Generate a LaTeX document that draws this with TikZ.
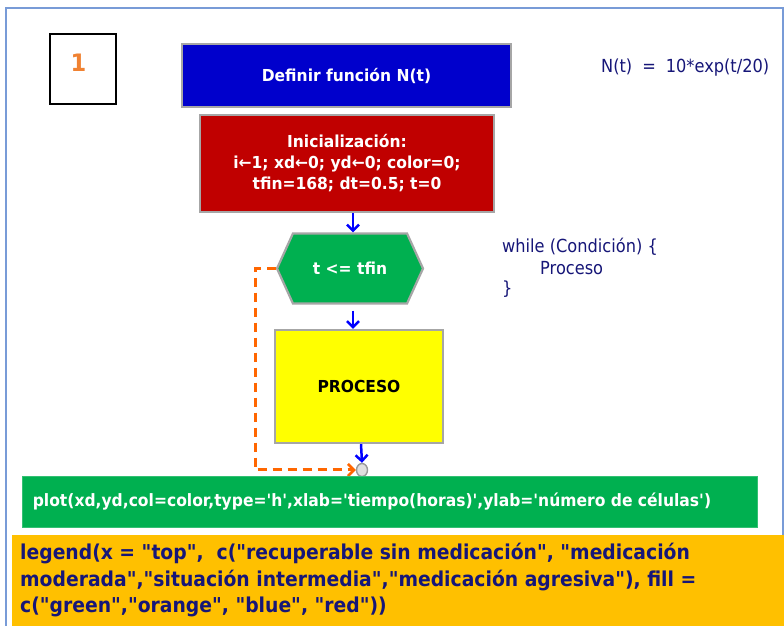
\documentclass[tikz,border=0pt]{standalone}
\usepackage{fontspec}
\usetikzlibrary{shapes.symbols,shapes.geometric,arrows.meta,calc}
\newfontfamily\boxfont{DejaVu Sans}[FakeStretch=0.94]
\newfontfamily\condfont{DejaVu Sans}[FakeStretch=0.915]
\newfontfamily\notefont{DejaVu Sans}[FakeStretch=0.9]
\newfontfamily\legfont{DejaVu Sans}[FakeStretch=0.915]
\definecolor{defblue}{RGB}{0,0,204}
\definecolor{initred}{RGB}{192,0,0}
\definecolor{okgreen}{RGB}{0,176,80}
\definecolor{procyellow}{RGB}{255,255,0}
\definecolor{legorange}{RGB}{255,192,0}
\definecolor{navy}{RGB}{22,22,120}
\definecolor{edgegray}{RGB}{166,166,166}
\definecolor{loopor}{RGB}{255,102,0}
\definecolor{numor}{RGB}{240,130,50}
\definecolor{framebl}{RGB}{120,155,215}
\tikzset{
  flowbox/.style={draw=edgegray, line width=2.4pt, minimum width=#1, inner sep=0pt},
  boxtext/.style={font=\boxfont\bfseries\fontsize{16.5}{21}\selectfont},
  arr/.style={draw={rgb,255:red,0;green,0;blue,255}, line width=2.5pt,
    -{Straight Barb[length=6pt,width=12pt,line width=2.5pt]}},
  looparr/.style={draw=loopor, line width=3pt, dash pattern=on 9pt off 6pt,
    -{Straight Barb[length=6pt,width=12pt,line width=2.6pt]}},
  note/.style={text=navy, font=\notefont\fontsize{18}{21}\selectfont, anchor=west, inner sep=0pt},
}
\begin{document}
\begin{tikzpicture}[x=1pt,y=1pt]
\useasboundingbox (0,0) rectangle (784,626);
\fill[white] (0,0) rectangle (784,626);
% outer frame
\draw[framebl, line width=2pt] (6,618) rectangle (783,-10);

% step number
\node[draw=black, line width=2pt, minimum width=66pt, minimum height=70pt] (one) at (83,557) {};
\node[text=numor, font=\boxfont\bfseries\fontsize{24}{24}\selectfont, inner sep=0pt]
  (onelbl) at ([shift={(-4.5,6)}]one.center) {1};

% flow boxes
\node[flowbox=329pt, minimum height=63pt, fill=defblue, text=white, boxtext]
  (def) at (346.5,550.5) {Definir función N(t)};
\node[flowbox=294pt, minimum height=97pt, fill=initred, text=white, align=center, boxtext]
  (init) at (347,462.5)
  {Inicialización:\\ i←1; xd←0; yd←0; color=0;\\ tfin=168; dt=0.5; t=0};
\node[signal, signal to=east and west, signal pointer angle=131, draw=edgegray, line width=2.2pt,
  fill=okgreen, text=white, minimum width=146pt, minimum height=70pt, inner sep=0pt, boxtext]
  (cond) at (350,357.5) {t <= tfin};
\node[flowbox=168pt, minimum height=113pt, fill=procyellow, text=black, boxtext]
  (proc) at (359,239.5) {PROCESO};
\node[draw=gray!80, fill=gray!25, line width=1.4pt, ellipse, minimum width=11pt, minimum height=13pt,
  inner sep=0pt] (join) at (362,156) {};

% connectors
\draw[arr] ([xshift=6pt]init.south) -- ([xshift=3pt]cond.north);
\draw[arr, shorten <=6pt] ([xshift=3pt]cond.south) -- ([xshift=-6pt]proc.north);
\draw[arr] ([xshift=2pt]proc.south) -- (join.north);
\coordinate (loopx) at (255,0);
\draw[looparr] (cond.west) -- (cond.west -| loopx) -- (join.west -| loopx) -- (join.west);

% plot call
\node[fill=okgreen, draw=okgreen!80!white, line width=0.8pt, minimum width=735pt,
  minimum height=51pt, inner sep=0pt] (plot) at (389.5,124.5) {};
\node[text=white, font=\condfont\bfseries\fontsize{17}{20}\selectfont, anchor=west, inner sep=0pt]
  (plotlbl) at ([xshift=11pt]plot.west)
  {plot(xd,yd,col=color,type='h',xlab='tiempo(horas)',ylab='número de células')};

% legend call
\node[fill=legorange, minimum width=772pt, minimum height=96pt, inner sep=0pt] (leg) at (398,43) {};
\node[text=navy, font=\legfont\bfseries\fontsize{20.5}{26.5}\selectfont, align=left, anchor=north west,
  inner sep=0pt] (leglbl) at (20,83)
  {legend(x = "top",\ \ c("recuperable sin medicación", "medicación\\
   moderada","situación intermedia","medicación agresiva"), fill =\\
   c("green","orange", "blue", "red"))};

% side notes
\node[note] (formula) at (601,558) {N(t)\hspace{10pt}=\hspace{10pt}10*exp(t/20)};
\node[note] (wh1) at (502,379) {while (Condición) \{};
\node[note] (wh2) at (540,358) {Proceso};
\node[note] (wh3) at (502,337) {\}};
\end{tikzpicture}
\end{document}
